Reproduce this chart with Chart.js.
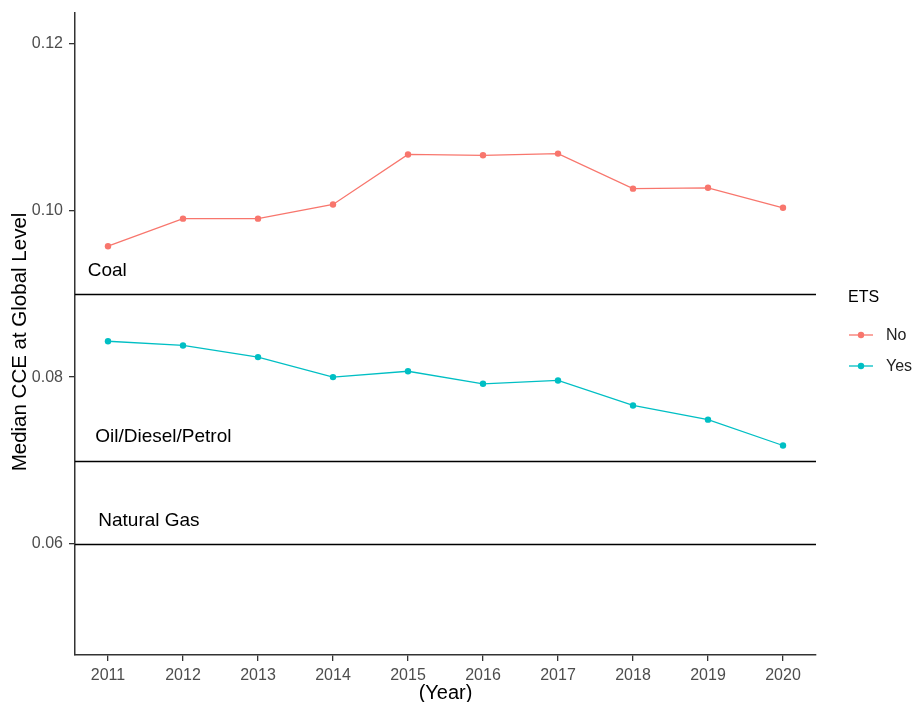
<!DOCTYPE html>
<html>
<head>
<meta charset="utf-8">
<script src="https://cdn.jsdelivr.net/npm/chart.js@4.4.1/dist/chart.umd.min.js"></script>
<style>
  html, body { margin: 0; padding: 0; background: #fff; }
  #wrap { width: 914px; height: 702px; position: relative; }
</style>
</head>
<body>
<div id="wrap"><canvas id="chart"></canvas></div>
<script>
// Data
const years = [2011, 2012, 2013, 2014, 2015, 2016, 2017, 2018, 2019, 2020];
const etsNo  = [0.0957, 0.0990, 0.0990, 0.1007, 0.1067, 0.1066, 0.1068, 0.1026, 0.1027, 0.1003];
const etsYes = [0.0843, 0.0838, 0.0824, 0.0800, 0.0807, 0.0792, 0.0796, 0.0766, 0.0749, 0.0718];
const yTicks = [0.06, 0.08, 0.10, 0.12];

// Fuel reference lines and their labels
const fuelNames  = ["Coal", "Oil/Diesel/Petrol", "Natural Gas"];
const fuelLevels = [0.09, 0.07, 0.06];
const fuelLabelX = [2010.73, 2010.83, 2010.87];
const fuelLabelY = [0.0928, 0.0728, 0.0628];

const seriesNames  = ["No", "Yes"];
const seriesColors = ["#F8766D", "#00BFC4"];

const FONT = "'Liberation Sans', Arial, sans-serif";

const fuelLines = {
  id: "fuelLines",
  beforeDatasetsDraw(chart) {
    const { ctx, chartArea, scales } = chart;
    ctx.save();
    ctx.strokeStyle = "#000";
    ctx.lineWidth = 1.3;
    fuelLevels.forEach(v => {
      const y = Math.round(scales.y.getPixelForValue(v)) + 0.5;
      ctx.beginPath();
      ctx.moveTo(chartArea.left, y);
      ctx.lineTo(chartArea.right, y);
      ctx.stroke();
    });
    ctx.fillStyle = "#000";
    ctx.font = "19px " + FONT;
    ctx.textAlign = "left";
    ctx.textBaseline = "middle";
    fuelNames.forEach((name, i) => {
      ctx.fillText(name, scales.x.getPixelForValue(fuelLabelX[i]), scales.y.getPixelForValue(fuelLabelY[i]));
    });
    ctx.restore();
  }
};

const sideText = {
  id: "sideText",
  afterDraw(chart) {
    const { ctx, chartArea } = chart;
    const x0 = chartArea.right + 32;
    ctx.save();
    // y axis title, sits a little below the panel centre in the original
    ctx.translate(20, 342);
    ctx.rotate(-Math.PI / 2);
    ctx.fillStyle = "#000";
    ctx.font = "20.5px " + FONT;
    ctx.textAlign = "center";
    ctx.textBaseline = "middle";
    ctx.fillText("Median CCE at Global Level", 0, 0);
    ctx.restore();

    ctx.save();
    ctx.fillStyle = "#000";
    ctx.font = "16px " + FONT;
    ctx.textBaseline = "middle";
    ctx.fillText("ETS", x0, 298);
    seriesNames.forEach((name, i) => {
      const y = 335 + i * 31;
      ctx.strokeStyle = seriesColors[i];
      ctx.lineWidth = 1.3;
      ctx.beginPath();
      ctx.moveTo(x0 + 1, y);
      ctx.lineTo(x0 + 25, y);
      ctx.stroke();
      ctx.fillStyle = seriesColors[i];
      ctx.beginPath();
      ctx.arc(x0 + 13, y, 3.2, 0, Math.PI * 2);
      ctx.fill();
      ctx.fillStyle = "#222";
      ctx.font = "16px " + FONT;
      ctx.fillText(name, x0 + 38, y + 1);
    });
    ctx.restore();
  }
};

const toPoints = vals => vals.map((v, i) => ({ x: years[i], y: v }));

new Chart(document.getElementById("chart"), {
  type: "line",
  data: {
    datasets: [
      { label: seriesNames[0], data: toPoints(etsNo) },
      { label: seriesNames[1], data: toPoints(etsYes) }
    ].map((d, i) => ({
      ...d,
      borderColor: seriesColors[i],
      backgroundColor: seriesColors[i],
      borderWidth: 1.3,
      pointRadius: 3.2,
      pointBorderWidth: 0,
      pointHoverRadius: 3.2,
      tension: 0
    }))
  },
  options: {
    responsive: true,
    maintainAspectRatio: false,
    animation: false,
    events: [],
    layout: { padding: { top: 13, right: 98, bottom: 0, left: 0 } },
    plugins: {
      legend: { display: false },
      tooltip: { enabled: false }
    },
    scales: {
      x: {
        type: "linear",
        min: 2010.56,
        max: 2020.44,
        afterBuildTicks: axis => { axis.ticks = years.map(v => ({ value: v })); },
        afterFit: axis => { axis.height = 47; },
        grid: { drawOnChartArea: false, tickLength: 6, color: "#333", lineWidth: 1.3 },
        border: { display: true, color: "#333", width: 1.5 },
        ticks: { color: "#4d4d4d", font: { family: FONT, size: 16 }, padding: 5, callback: v => String(v) },
        title: { display: true, text: "(Year)", color: "#000", font: { family: FONT, size: 20, lineHeight: 1 }, padding: { top: 0, bottom: -1 } }
      },
      y: {
        min: 0.04668,
        max: 0.12366,
        afterBuildTicks: axis => { axis.ticks = yTicks.map(v => ({ value: v })); },
        afterFit: axis => { axis.width = 75; axis.paddingTop = 0; axis.paddingBottom = 0; },
        grid: { drawOnChartArea: false, tickLength: 6, color: "#333", lineWidth: 1.3 },
        border: { display: true, color: "#333", width: 1.5 },
        ticks: { color: "#4d4d4d", font: { family: FONT, size: 16 }, padding: 6, callback: v => v.toFixed(2) },
        title: { display: false }
      }
    }
  },
  plugins: [fuelLines, sideText]
});
</script>
</body>
</html>
